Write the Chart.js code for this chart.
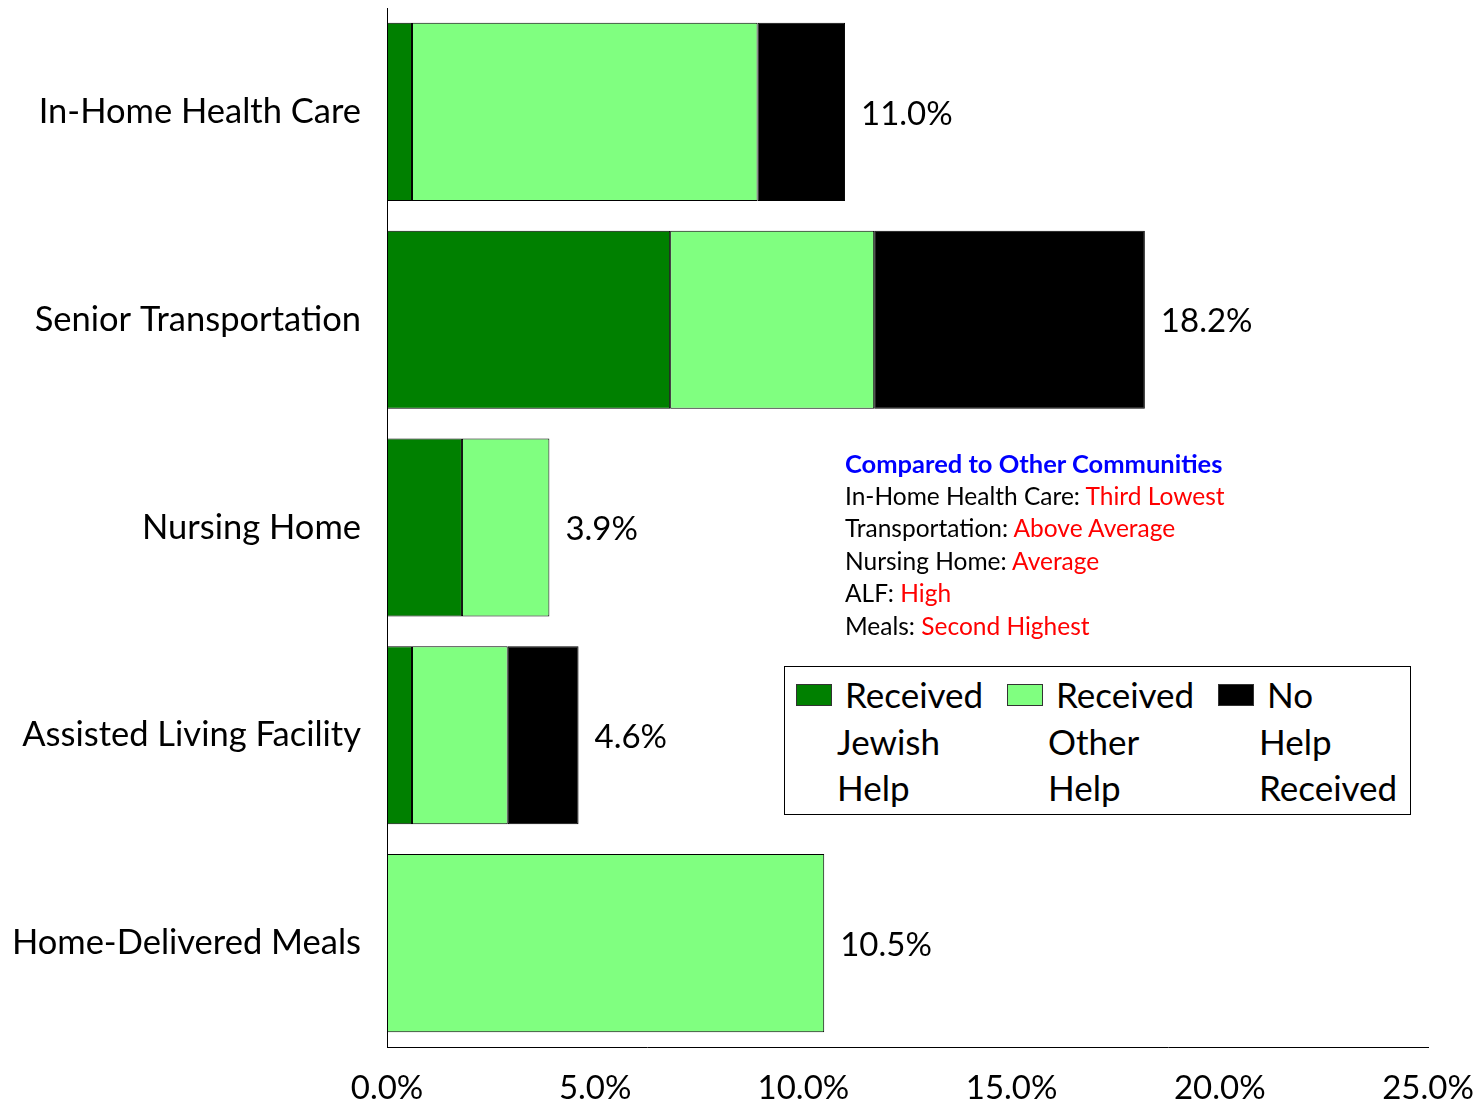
<!DOCTYPE html>
<html>
<head>
<meta charset="utf-8">
<script src="https://cdn.jsdelivr.net/npm/chart.js@4/dist/chart.umd.min.js"></script>
<style>
  html, body { margin: 0; padding: 0; background: #fff; }
  #wrap { position: relative; width: 1483px; height: 1109px; font-family: Lato, "Open Sans", sans-serif; }
  #legend { position: absolute; left: 784px; top: 666px; width: 625px; height: 147px; border: 1px solid #000; background: #fff; }
  .litem { position: absolute; top: 4px; font-size: 35px; line-height: 46.5px; color: #000; }
  .sw { position: absolute; top: 17px; width: 36px; height: 22px; border: 1px solid #333; box-sizing: border-box; }
  #note { position: absolute; left: 845px; top: 447px; font-size: 24.5px; line-height: 32.5px; color: #000; }
  #note .t { color: #0000ff; font-weight: bold; font-size: 25.5px; }
  #note .r { color: #ff0000; }
</style>
</head>
<body>
<div id="wrap">
  <canvas id="c" width="1483" height="1109"></canvas>
  <div id="note"></div>
  <div id="legend"></div>
</div>
<script>
const categories = ['In-Home Health Care', 'Senior Transportation', 'Nursing Home', 'Assisted Living Facility', 'Home-Delivered Meals'];
const jewishHelp = [0.6, 6.8, 1.8, 0.6, 0.0];
const otherHelp  = [8.3, 4.9, 2.1, 2.3, 10.5];
const noHelp     = [2.1, 6.5, 0.0, 1.7, 0.0];
const seriesNames = ['Received Jewish Help', 'Received Other Help', 'No Help Received'];
const seriesColors = ['#008000', '#80ff80', '#000000'];
const xTicks = [0, 5, 10, 15, 20, 25];
const noteTitle = 'Compared to Other Communities';
const noteLabels = ['In-Home Health Care', 'Transportation', 'Nursing Home', 'ALF', 'Meals'];
const noteValues = ['Third Lowest', 'Above Average', 'Average', 'High', 'Second Highest'];

const FONT = 'Lato, "Open Sans", sans-serif';

// annotation
const note = document.getElementById('note');
let html = '<div class="t">' + noteTitle + '</div>';
noteLabels.forEach((l, i) => { html += '<div>' + l + ': <span class="r">' + noteValues[i] + '</span></div>'; });
note.innerHTML = html;

// legend
const legend = document.getElementById('legend');
seriesNames.forEach((name, i) => {
  const colLeft = 11 + i * 211;
  const sw = document.createElement('div');
  sw.className = 'sw';
  sw.style.left = colLeft + 'px';
  sw.style.background = seriesColors[i];
  legend.appendChild(sw);
  const words = name.split(' ');
  const item = document.createElement('div');
  item.className = 'litem';
  item.style.left = (colLeft + 41) + 'px';
  item.innerHTML = words.map((w, k) => '<div style="margin-left:' + (k === 0 ? 8 : 0) + 'px">' + w + '</div>').join('');
  legend.appendChild(item);
});

const totalsPlugin = {
  id: 'totals',
  afterDatasetsDraw(chart) {
    const ctx = chart.ctx;
    const xs = chart.scales.x, ys = chart.scales.y;
    ctx.save();
    ctx.font = '33px ' + FONT;
    ctx.fillStyle = '#000';
    ctx.textAlign = 'left';
    ctx.textBaseline = 'middle';
    categories.forEach((c, i) => {
      const total = jewishHelp[i] + otherHelp[i] + noHelp[i];
      ctx.fillText(total.toFixed(1) + '%', xs.getPixelForValue(total) + 16, ys.getPixelForValue(i) + 2);
    });
    ctx.restore();
  }
};

function noPad(scale) {
  scale.paddingTop = 0; scale.paddingBottom = 0; scale.paddingLeft = 0; scale.paddingRight = 0;
}

const dsData = [jewishHelp, otherHelp, noHelp];
new Chart(document.getElementById('c'), {
  type: 'bar',
  data: {
    labels: categories,
    datasets: dsData.map((d, i) => ({
      label: seriesNames[i],
      data: d,
      backgroundColor: seriesColors[i],
      borderColor: '#000',
      borderWidth: 1,
      borderSkipped: false,
      barPercentage: 0.857,
      categoryPercentage: 1.0
    }))
  },
  options: {
    indexAxis: 'y',
    responsive: false,
    animation: false,
    layout: { padding: { top: 8, right: 55, left: 0, bottom: 0 } },
    plugins: { legend: { display: false }, tooltip: { enabled: false } },
    scales: {
      x: {
        stacked: true,
        min: 0, max: 25,
        afterBuildTicks(scale) { scale.ticks = xTicks.map(v => ({ value: v })); },
        ticks: { callback: v => Number(v).toFixed(1) + '%', color: '#000', font: { family: FONT, size: 33 }, padding: 22, maxRotation: 0 },
        grid: { display: false, drawTicks: false },
        border: { display: true, color: '#000', width: 1 },
        afterFit(scale) { scale.height = 62; noPad(scale); }
      },
      y: {
        stacked: true,
        ticks: { color: '#000', font: { family: FONT, size: 34.5 }, padding: 26 },
        grid: { display: false, drawTicks: false },
        border: { display: true, color: '#000', width: 1 },
        afterFit(scale) { scale.width = 387; noPad(scale); }
      }
    }
  },
  plugins: [totalsPlugin]
});
</script>
</body>
</html>
